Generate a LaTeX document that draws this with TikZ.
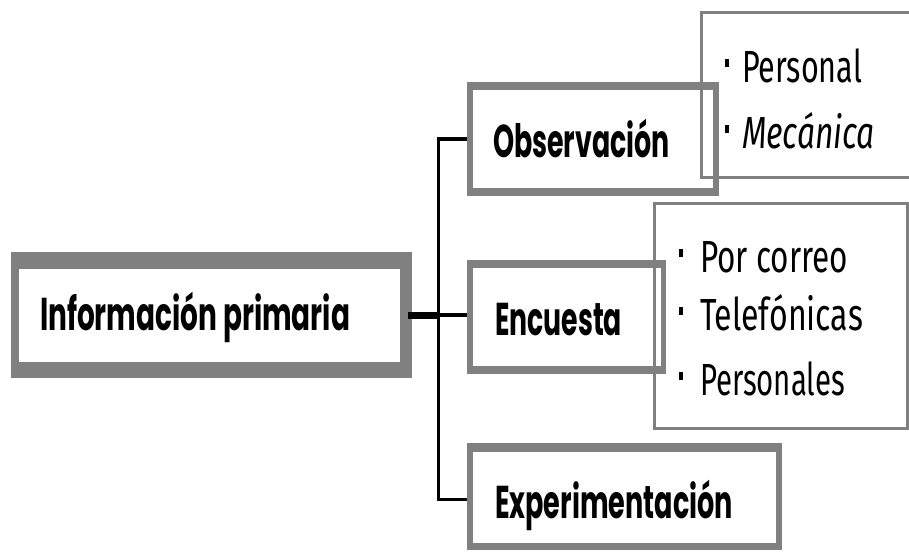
\documentclass[tikz,border=0pt]{standalone}
\usepackage{fontspec}
\usepackage{graphicx}
\newfontfamily\boxfont{Poppins}
\newfontfamily\itemfont{Fira Sans}
% box label: bold rounded face, squeezed to a given width
\newcommand\boxtext[2]{\resizebox{#1}{\height}{\boxfont\bfseries\fontsize{46}{50}\selectfont #2}}
% list entry: small bullet, gap, then narrow text of a given width
\newcommand\itemtext[3]{\rule[15pt]{4pt}{8pt}\hspace*{#1}\resizebox{#2}{\height}{\itemfont\fontsize{45}{50}\selectfont #3}}
\definecolor{framegray}{HTML}{808080}
\begin{document}
\begin{tikzpicture}[x=1pt,y=-1pt,
  outerbox/.style={fill=framegray,draw=none,inner sep=0pt,outer sep=0pt},
  innerbox/.style={fill=white,draw=none,inner sep=0pt,outer sep=0pt},
  listbox/.style={draw=framegray,line width=3pt,inner sep=0pt,outer sep=0pt},
  label/.style={anchor=base west,inner sep=0pt,outer sep=0pt,text=black},
  conn/.style={draw=black,line width=3.5pt},
  stub/.style={draw=black,line width=7pt}]
  \clip (0,0) rectangle (909,551);
  \fill[white] (0,0) rectangle (909,551);

  % main box
  \node[outerbox,minimum width=401pt,minimum height=126pt] (mainout) at (211.5,315) {};
  \node[innerbox,minimum width=381pt,minimum height=93pt] (mainin) at (209.5,315.5) {};
  \node[label] (mainlbl) at (40,330) {\boxtext{310pt}{Información primaria}};

  % branch boxes
  \node[outerbox,minimum width=252pt,minimum height=114pt] (obsout) at (593,139) {};
  \node[innerbox,minimum width=240pt,minimum height=98pt] (obsin) at (593,139) {};
  \node[label] (obslbl) at (493,157) {\boxtext{177pt}{Observación}};

  \node[outerbox,minimum width=199pt,minimum height=114pt] (encout) at (566.5,317) {};
  \node[innerbox,minimum width=188pt,minimum height=98pt] (encin) at (567,317) {};
  \node[label] (enclbl) at (495,335) {\boxtext{127pt}{Encuesta}};

  \node[outerbox,minimum width=315pt,minimum height=107pt] (expout) at (624.5,496.5) {};
  \node[innerbox,minimum width=303pt,minimum height=91pt] (expin) at (624.5,497.5) {};
  \node[label] (explbl) at (495,518) {\boxtext{238pt}{Experimentación}};

  % list boxes
  \node[listbox,minimum width=214.5pt,minimum height=165pt] (obslist) at (808.75,95) {};
  \node[label] (obsa) at (725,82) {\itemtext{13pt}{120pt}{Personal}};
  \node[label] (obsb) at (725,148) {\itemtext{13pt}{133pt}{\itshape Mecánica}};

  \node[listbox,minimum width=253pt,minimum height=225pt] (enclist) at (781,316) {};
  \node[label] (enca) at (679,272) {\itemtext{17pt}{148pt}{Por correo}};
  \node[label] (encb) at (679,330) {\itemtext{17pt}{163pt}{Telefónicas}};
  \node[label] (encc) at (679,395) {\itemtext{17pt}{145pt}{Personales}};

  % connectors
  \coordinate (bus) at (438.5,315);
  \draw[stub] ([xshift=-4pt]mainout.east) -- (bus);
  \draw[conn] (bus) -- (bus -| encout.west);
  \draw[conn] (obsout.west) -| (bus) |- ([yshift=-3pt]expout.west);
\end{tikzpicture}
\end{document}
